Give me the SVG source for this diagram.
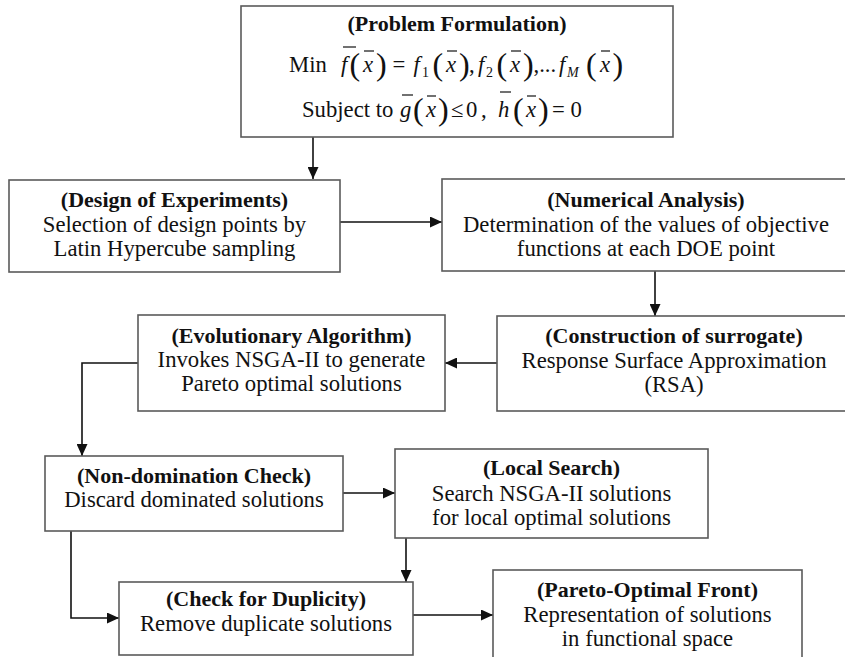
<svg xmlns="http://www.w3.org/2000/svg" width="845" height="657" viewBox="0 0 845 657">
<defs>
<style>
text{font-family:'Liberation Serif','Times New Roman',serif}
.box{fill:#fff;stroke:#5a5a5a;stroke-width:1.6}
.t{font-size:22.7px;fill:#111;text-anchor:middle}
.b{font-weight:bold;font-size:22px}
.m{font-size:22.7px;fill:#111}
.i{font-style:italic}
.p{font-size:32px}
.s{font-size:14px}
.ob{stroke:#111;stroke-width:1.2}
.c{stroke:#111;stroke-width:1.6;fill:none;marker-end:url(#ah)}
</style>
<marker id="ah" markerUnits="userSpaceOnUse" markerWidth="12" markerHeight="11" refX="12" refY="5.5" orient="auto">
<path d="M0,0 L12,5.5 L0,11 z" fill="#111"/>
</marker>
</defs>
<rect width="845" height="657" fill="#fff"/>
<g id="connectors">
<path class="c" d="M313,137 V179"/>
<path class="c" d="M340,222 H442"/>
<path class="c" d="M655,271 V316"/>
<path class="c" d="M497,363 H445"/>
<path class="c" d="M138,363 H82 V456"/>
<path class="c" d="M343,493 H395"/>
<path class="c" d="M406,538 V582"/>
<path class="c" d="M71,531 V618 H119"/>
<path class="c" d="M413,615 H493"/>
</g>
<g id="problem">
<rect class="box" x="241" y="6" width="432" height="131"/>
<text class="t b" x="457" y="31">(Problem Formulation)</text>
<text class="m" x="289" y="72">Min</text>
<text class="m i" x="341" y="72">f</text>
<line class="ob" x1="343" y1="47" x2="356" y2="47"/>
<text class="m p" x="349.5" y="75">(</text>
<text class="m i" x="363" y="72">x</text>
<line class="ob" x1="364" y1="51" x2="374" y2="51"/>
<text class="m p" x="376" y="75">)</text>
<text class="m" x="392.5" y="72">=</text>
<text class="m i" x="413.5" y="72">f</text>
<text class="m s" x="422" y="77">1</text>
<text class="m p" x="432.5" y="75">(</text>
<text class="m i" x="446" y="72">x</text>
<line class="ob" x1="447" y1="51" x2="457" y2="51"/>
<text class="m p" x="459" y="75">)</text>
<text class="m" x="469" y="72">,</text>
<text class="m i" x="478" y="72">f</text>
<text class="m s" x="486" y="77">2</text>
<text class="m p" x="496.5" y="75">(</text>
<text class="m i" x="510" y="72">x</text>
<line class="ob" x1="511" y1="51" x2="521" y2="51"/>
<text class="m p" x="523" y="75">)</text>
<text class="m" x="533.5" y="72">,...</text>
<text class="m i" x="559" y="72">f</text>
<text class="m s i" x="567" y="77">M</text>
<text class="m p" x="586" y="75">(</text>
<text class="m i" x="600" y="72">x</text>
<line class="ob" x1="601" y1="51" x2="610" y2="51"/>
<text class="m p" x="612.5" y="75">)</text>
<text class="m" x="302" y="117">Subject to</text>
<text class="m i" x="400" y="117">g</text>
<line class="ob" x1="402" y1="95" x2="413" y2="95"/>
<text class="m p" x="413" y="120">(</text>
<text class="m i" x="426" y="117">x</text>
<line class="ob" x1="427" y1="96" x2="436" y2="96"/>
<text class="m p" x="438" y="120">)</text>
<text class="m" x="451" y="117">≤</text>
<text class="m" x="466" y="117">0</text>
<text class="m" x="481" y="117">,</text>
<text class="m i" x="498" y="117">h</text>
<line class="ob" x1="500" y1="92" x2="511" y2="92"/>
<text class="m p" x="513" y="120">(</text>
<text class="m i" x="526" y="117">x</text>
<line class="ob" x1="527" y1="96" x2="536" y2="96"/>
<text class="m p" x="538" y="120">)</text>
<text class="m" x="552" y="117">= 0</text>
</g>
<g id="doe">
<rect class="box" x="9" y="180" width="331" height="92"/>
<text class="t b" x="174.5" y="207">(Design of Experiments)</text>
<text class="t" x="174.5" y="232">Selection of design points by</text>
<text class="t" x="174.5" y="256">Latin Hypercube sampling</text>
</g>
<g id="numerical">
<rect class="box" x="442" y="179" width="408" height="92"/>
<text class="t b" x="646" y="207">(Numerical Analysis)</text>
<text class="t" x="646" y="232">Determination of the values of objective</text>
<text class="t" x="646" y="256">functions at each DOE point</text>
</g>
<g id="surrogate">
<rect class="box" x="497" y="316" width="353" height="95"/>
<text class="t b" x="674" y="343">(Construction of surrogate)</text>
<text class="t" x="674" y="368">Response Surface Approximation</text>
<text class="t" x="674" y="392">(RSA)</text>
</g>
<g id="evolutionary">
<rect class="box" x="138" y="315" width="307" height="96"/>
<text class="t b" x="291.5" y="343">(Evolutionary Algorithm)</text>
<text class="t" x="291.5" y="367">Invokes NSGA-II to generate</text>
<text class="t" x="291.5" y="391">Pareto optimal solutions</text>
</g>
<g id="nondomination">
<rect class="box" x="45" y="456" width="298" height="75"/>
<text class="t b" x="194" y="483">(Non-domination Check)</text>
<text class="t" x="194" y="507">Discard dominated solutions</text>
</g>
<g id="localsearch">
<rect class="box" x="395" y="449" width="313" height="89"/>
<text class="t b" x="551.5" y="475">(Local Search)</text>
<text class="t" x="551.5" y="501">Search NSGA-II solutions</text>
<text class="t" x="551.5" y="525">for local optimal solutions</text>
</g>
<g id="duplicity">
<rect class="box" x="119" y="582" width="294" height="73"/>
<text class="t b" x="266" y="606">(Check for Duplicity)</text>
<text class="t" x="266" y="631">Remove duplicate solutions</text>
</g>
<g id="pareto">
<rect class="box" x="493" y="570" width="309" height="90"/>
<text class="t b" x="647.5" y="597">(Pareto-Optimal Front)</text>
<text class="t" x="647.5" y="622">Representation of solutions</text>
<text class="t" x="647.5" y="646">in functional space</text>
</g>
</svg>
